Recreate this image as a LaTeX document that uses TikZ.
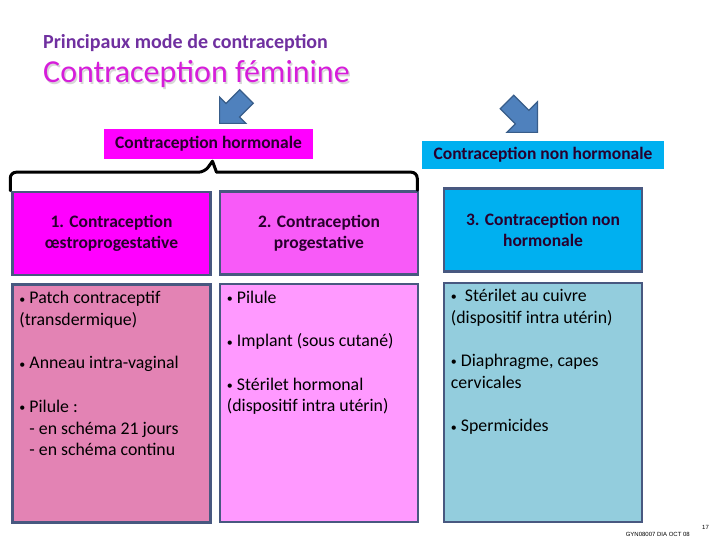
\documentclass[tikz,border=0pt]{standalone}
\usepackage{fontspec}
\setmainfont{Carlito}
\newfontfamily\footfont{Liberation Sans}
\usetikzlibrary{positioning,shapes.arrows}
\definecolor{titlepurple}{RGB}{112,48,160}
\definecolor{femmag}{RGB}{214,30,218}
\definecolor{shadowgray}{RGB}{215,215,215}
\definecolor{magbox}{RGB}{255,0,255}
\definecolor{cyanbox}{RGB}{0,176,240}
\definecolor{pinkhdr}{RGB}{248,90,248}
\definecolor{bodyone}{RGB}{227,131,180}
\definecolor{bodytwo}{RGB}{255,153,255}
\definecolor{bodythree}{RGB}{147,205,221}
\definecolor{boxline}{RGB}{72,88,128}
\definecolor{arrfill}{RGB}{79,129,189}
\definecolor{arrline}{RGB}{56,93,138}
\definecolor{hdrtext}{RGB}{40,0,45}
\newcommand\shadowtext[1]{{\color{shadowgray}\rlap{\hspace{1.5pt}\raisebox{-1.5pt}{#1}}}#1}
\newcommand\itm{{\fontsize{12}{12}\selectfont\raisebox{0.5pt}{•}}}

\begin{document}
\begin{tikzpicture}[x=1pt, y=-1pt,
  hdr/.style={draw=boxline, line width=2.5pt, minimum width=198pt, minimum height=83pt, inner sep=0pt, align=center, text=hdrtext, font=\bfseries\fontsize{17.5}{21}\selectfont},
  body/.style={draw=boxline, line width=2.5pt, minimum width=198pt, minimum height=238pt, inner sep=0pt},
  items/.style={align=left, inner sep=0pt, font=\fontsize{17.8}{21.7}\selectfont},
  cat/.style={inner sep=0pt, text=hdrtext, font=\bfseries\fontsize{17.5}{20}\selectfont},
  blockarrow/.style={single arrow, draw=arrline, fill=arrfill, line width=1.2pt, inner xsep=0pt, inner ysep=9pt, single arrow tip angle=90, anchor=tip},
  brace/.style={line width=3pt, line cap=round, line join=round}]
\useasboundingbox[fill=white] (0,0) rectangle (720,540);

\node[anchor=west, inner sep=0pt, text=titlepurple, font=\bfseries\fontsize{20}{22}\selectfont] (ti) at (43,43) {Principaux mode de contraception};
\node[anchor=west, inner sep=0pt, text=femmag, font=\fontsize{32}{36}\selectfont] (sub) at (43,75) {\shadowtext{Contraception féminine}};

\node[blockarrow, rotate=225, minimum height=38pt, single arrow head extend=9pt] (aL) at (219,124) {};
\node[blockarrow, rotate=-45, minimum height=43pt, single arrow head extend=12pt] (aR) at (538,133) {};

\node[cat, fill=magbox, minimum width=209pt, minimum height=30pt] (hor) at (208.5,144) {Contraception hormonale};
\node[cat, fill=cyanbox, minimum width=242pt, minimum height=28pt] (nonh) at (543,155) {Contraception non hormonale};

\node[hdr, fill=magbox] (h1) at (111.5,233.5) {1. Contraception\\ œstroprogestative};
\node[hdr, fill=pinkhdr] (h2) at (319,233) {2. Contraception\\ progestative};
\node[hdr, fill=cyanbox] (h3) at (543,230) {3. Contraception non\\ hormonale};

\node[body, fill=bodyone, below=7pt of h1] (b1) {};
\node[body, fill=bodytwo, below=7pt of h2] (b2) {};
\node[body, fill=bodythree, below=9pt of h3, minimum height=239pt] (b3) {};

\node[items, below right=8pt and 8pt of b1.north west] (t1) {\itm{} Patch contraceptif\\ (transdermique)\\[\baselineskip] \itm{} Anneau intra-vaginal\\[\baselineskip] \itm{} Pilule :\\ \hspace*{10pt}- en schéma 21 jours\\ \hspace*{10pt}- en schéma continu};
\node[items, below right=8pt and 8pt of b2.north west] (t2) {\itm{} Pilule\\[\baselineskip] \itm{} Implant (sous cutané)\\[\baselineskip] \itm{} Stérilet hormonal\\ (dispositif intra utérin)};
\node[items, below right=7pt and 8pt of b3.north west] (t3) {\itm\ \ Stérilet au cuivre\\ (dispositif intra utérin)\\[\baselineskip] \itm{} Diaphragme, capes\\ cervicales\\[\baselineskip] \itm{} Spermicides};

\draw[brace] ([xshift=-1pt]h1.north west) [rounded corners=6pt] |- ([xshift=-4pt,yshift=-13pt]hor.south) [sharp corners] -- ([xshift=4pt,yshift=-2pt]hor.south) -- ([xshift=8pt,yshift=-13pt]hor.south) [rounded corners=6pt] -| ([xshift=-2pt]h2.north east);

\node[anchor=base east, inner sep=0pt, font=\footfont\fontsize{6}{7}\selectfont] (foot) at (690,536) {GYN08007 DIA OCT 08};
\node[anchor=base west, inner sep=0pt, font=\footfont\fontsize{6}{7}\selectfont] (pg) at (702,529) {17};
\end{tikzpicture}
\end{document}
